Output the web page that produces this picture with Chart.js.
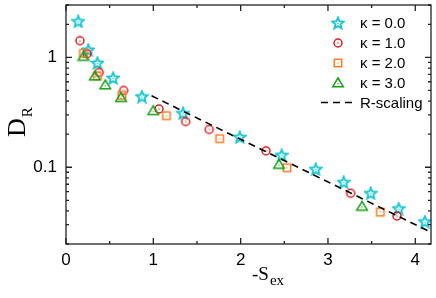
<!DOCTYPE html>
<html>
<head>
<meta charset="utf-8">
<script src="https://cdn.jsdelivr.net/npm/chart.js@4.4.1/dist/chart.umd.min.js"></script>
<style>
  html, body { margin: 0; padding: 0; background: #fff; }
  #wrap { width: 436px; height: 298px; }
</style>
</head>
<body>
<div id="wrap"><canvas id="chart" width="436" height="298"></canvas></div>
<script>
// data
const kappa0X = [0.14, 0.255, 0.36, 0.54, 0.87, 1.34, 1.99, 2.47, 2.86, 3.18, 3.49, 3.81, 4.11];
const kappa0Y = [2.13, 1.17, 0.89, 0.65, 0.44, 0.31, 0.188, 0.129, 0.096, 0.073, 0.058, 0.042, 0.032];
const kappa1X = [0.16, 0.24, 0.38, 0.66, 1.065, 1.37, 1.64, 2.29, 3.26, 3.79];
const kappa1Y = [1.42, 1.08, 0.73, 0.50, 0.339, 0.261, 0.221, 0.141, 0.058, 0.036];
const kappa2X = [0.2, 0.36, 0.64, 1.15, 1.76, 2.53, 3.60];
const kappa2Y = [1.09, 0.68, 0.45, 0.295, 0.182, 0.099, 0.039];
const kappa3X = [0.2, 0.33, 0.45, 0.63, 1.0, 2.44, 3.39];
const kappa3Y = [1.02, 0.675, 0.56, 0.43, 0.327, 0.106, 0.044];
const rScalingX = [0.98, 4.18];
const rScalingY = [0.447, 0.0256];

const legendLabels = ['κ = 0.0', 'κ = 1.0', 'κ = 2.0', 'κ = 3.0', 'R-scaling'];
const xTickLabels = [0, 1, 2, 3, 4];
const yTickLabels = [0.1, 1];

const cyan = '#1cc6d2', red = '#e01e1e', orange = '#ff7a26', green = '#13a013';

function pts(xs, ys) {
  return xs.map((x, i) => ({ x: x, y: ys[i] }));
}

// gnuplot-like markers with a small dot in the middle
function marker(draw) {
  const c = document.createElement('canvas');
  c.width = 14; c.height = 14;
  const g = c.getContext('2d');
  draw(g, 7, 7);
  return c;
}
function dot(g, cx, cy, col) {
  g.fillStyle = col;
  g.fillRect(cx - 0.6, cy - 0.6, 1.2, 1.2);
}
const starImg = marker((g, cx, cy) => {
  g.strokeStyle = cyan; g.lineWidth = 1.9; g.lineJoin = 'miter';
  g.beginPath();
  for (let i = 0; i < 10; i++) {
    const r = i % 2 === 0 ? 6 : 2.7;
    const a = -Math.PI / 2 + i * Math.PI / 5;
    const px = cx + r * Math.cos(a), py = cy + 0.5 + r * Math.sin(a);
    if (i === 0) g.moveTo(px, py); else g.lineTo(px, py);
  }
  g.closePath(); g.stroke();
  dot(g, cx, cy + 0.5, cyan);
});
const circleImg = marker((g, cx, cy) => {
  g.strokeStyle = red; g.lineWidth = 1.5;
  g.beginPath(); g.arc(cx, cy, 4, 0, Math.PI * 2); g.stroke();
  dot(g, cx, cy, red);
});
const squareImg = marker((g, cx, cy) => {
  g.strokeStyle = orange; g.lineWidth = 1.5;
  g.strokeRect(cx - 3.7, cy - 3.7, 7.4, 7.4);
  dot(g, cx, cy, orange);
});
const triImg = marker((g, cx, cy) => {
  g.strokeStyle = green; g.lineWidth = 1.5;
  g.beginPath();
  g.moveTo(cx, cy - 5); g.lineTo(cx + 5.3, cy + 3.7); g.lineTo(cx - 5.3, cy + 3.7);
  g.closePath(); g.stroke();
  dot(g, cx, cy + 0.8, green);
});
const markers = [starImg, circleImg, squareImg, triImg];

// frame, inward ticks on all four sides
const framePlugin = {
  id: 'frame',
  afterDatasetsDraw(chart) {
    const { ctx, chartArea: a, scales } = chart;
    const xs = scales.x, ys = scales.y;
    ctx.save();
    ctx.strokeStyle = '#222';
    ctx.lineWidth = 1.3;
    ctx.beginPath();
    for (let v = 0; v <= 4.18; v += 0.5) {
      const px = xs.getPixelForValue(v);
      const len = Number.isInteger(v) ? 6 : 3;
      ctx.moveTo(px, a.bottom); ctx.lineTo(px, a.bottom - len);
      ctx.moveTo(px, a.top); ctx.lineTo(px, a.top + len);
    }
    for (let d = 0.01; d < 10; d *= 10) {
      for (let m = 1; m <= 9; m++) {
        const v = d * m;
        if (v < 0.02 - 1e-9 || v > 3 + 1e-9) continue;
        const py = ys.getPixelForValue(v);
        const len = m === 1 ? 6 : 3;
        ctx.moveTo(a.left, py); ctx.lineTo(a.left + len, py);
        ctx.moveTo(a.right, py); ctx.lineTo(a.right - len, py);
      }
    }
    ctx.stroke();
    ctx.strokeRect(a.left, a.top, a.right - a.left, a.bottom - a.top);
    ctx.restore();
  },
  afterDraw(chart) {
    const ctx = chart.ctx;
    ctx.save();
    // legend
    ctx.font = '15px "Liberation Sans"';
    ctx.fillStyle = '#000';
    ctx.textBaseline = 'middle';
    const rowY = [23, 43, 63, 83, 102.5];
    legendLabels.forEach((lab, i) => {
      if (i < 4) {
        const m = markers[i];
        ctx.drawImage(m, 338 - m.width / 2, rowY[i] - m.height / 2);
      } else {
        ctx.strokeStyle = '#000'; ctx.lineWidth = 1.6;
        ctx.setLineDash([7, 5]);
        ctx.beginPath(); ctx.moveTo(321, rowY[i]); ctx.lineTo(356, rowY[i]); ctx.stroke();
        ctx.setLineDash([]);
      }
      ctx.fillText(lab, 360, rowY[i] + 1);
    });
    // axis titles
    ctx.textBaseline = 'alphabetic';
    ctx.font = '19px "Liberation Serif"';
    ctx.fillText('-S', 252, 280);
    const w = ctx.measureText('-S').width;
    ctx.font = '15px "Liberation Serif"';
    ctx.fillText('ex', 252 + w + 1, 285);
    ctx.translate(25, 137);
    ctx.rotate(-Math.PI / 2);
    ctx.font = '26px "Liberation Serif"';
    ctx.fillText('D', 0, 0);
    const wd = ctx.measureText('D').width;
    ctx.font = '15px "Liberation Serif"';
    ctx.fillText('R', wd + 1, 7);
    ctx.restore();
  }
};

Chart.defaults.font.family = '"Liberation Sans", Arial, sans-serif';
Chart.defaults.color = '#000';

new Chart(document.getElementById('chart'), {
  type: 'scatter',
  data: {
    datasets: [
      { label: legendLabels[0], data: pts(kappa0X, kappa0Y), pointStyle: starImg, order: 4 },
      { label: legendLabels[1], data: pts(kappa1X, kappa1Y), pointStyle: circleImg, order: 3 },
      { label: legendLabels[2], data: pts(kappa2X, kappa2Y), pointStyle: squareImg, order: 2 },
      { label: legendLabels[3], data: pts(kappa3X, kappa3Y), pointStyle: triImg, order: 1 },
      {
        label: legendLabels[4], data: pts(rScalingX, rScalingY), showLine: true,
        pointRadius: 0, borderColor: '#000', borderWidth: 1.6, borderDash: [7, 5], order: 0
      }
    ]
  },
  options: {
    responsive: false,
    animation: false,
    layout: { padding: { top: 1, right: 4, left: 0, bottom: 0 } },
    plugins: { legend: { display: false }, tooltip: { enabled: false } },
    scales: {
      x: {
        type: 'linear', min: 0, max: 4.18, bounds: 'data',
        grid: { display: false, drawTicks: false }, border: { display: false },
        ticks: {
          stepSize: 1, includeBounds: false, autoSkip: false, maxRotation: 0, padding: 6,
          font: { size: 17 },
          callback: v => xTickLabels.includes(v) ? String(v) : ''
        },
        afterFit: s => { s.height = 54; s.paddingLeft = 0; s.paddingRight = 0; }
      },
      y: {
        type: 'logarithmic', min: 0.02, max: 3, bounds: 'data',
        grid: { display: false, drawTicks: false }, border: { display: false },
        ticks: {
          autoSkip: false, padding: 9,
          font: { size: 17 },
          callback: v => {
            const hit = yTickLabels.find(t => Math.abs(v - t) < 1e-9);
            return hit !== undefined ? String(hit) : '';
          }
        },
        afterDataLimits: s => { s.min = 0.02; s.max = 3; },
        afterFit: s => { s.width = 66; s.paddingTop = 0; s.paddingBottom = 0; }
      }
    }
  },
  plugins: [framePlugin]
});
</script>
</body>
</html>
